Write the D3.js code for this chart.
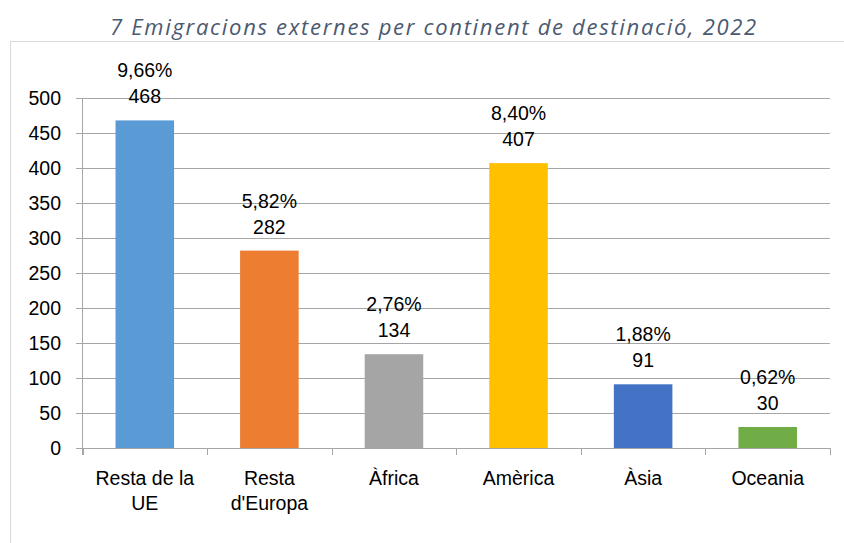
<!DOCTYPE html>
<html lang="ca">
<head>
  <meta charset="UTF-8">
  <title>Emigracions externes</title>
  <script src="https://d3js.org/d3.v7.min.js"></script>
  <style>
    body { margin: 0; background: #fff; }
  </style>
</head>
<body>
  <svg width="844" height="543"></svg>
<script>
  const categories = ["Resta de la UE", "Resta d'Europa", "Àfrica", "Amèrica", "Àsia", "Oceania"];
  const labelLines = [["Resta de la", "UE"], ["Resta", "d'Europa"], ["Àfrica"], ["Amèrica"], ["Àsia"], ["Oceania"]];
  const values = [468, 282, 134, 407, 91, 30];
  const percents = ["9,66%", "5,82%", "2,76%", "8,40%", "1,88%", "0,62%"];
  const colors = ["#5B9BD5", "#ED7D31", "#A5A5A5", "#FFC000", "#4472C4", "#70AD47"];
  const yTicks = [0, 50, 100, 150, 200, 250, 300, 350, 400, 450, 500];

  const svg = d3.select("svg");
  const font = "'Liberation Sans', sans-serif";
  const fs = 19.5;

  // titol
  svg.append("text")
    .attr("x", 434)
    .attr("y", 35)
    .attr("text-anchor", "middle")
    .attr("font-family", "'Open Sans', sans-serif")
    .attr("font-style", "italic")
    .attr("font-size", 22)
    .attr("letter-spacing", 1.7)
    .attr("fill", "#4b5a70")
    .text("7 Emigracions externes per continent de destinació, 2022");

  // marc del grafic
  svg.append("rect")
    .attr("x", 10.5).attr("y", 41.5)
    .attr("width", 840).attr("height", 520)
    .attr("fill", "none")
    .attr("stroke", "#d9d9d9");

  const x = d3.scaleBand()
    .domain(categories)
    .range([82.5, 830])
    .paddingInner(0.53)
    .paddingOuter(0.265);

  const y = d3.scaleLinear()
    .domain([0, 500])
    .range([448, 98]);

  // linies de graella
  svg.append("g")
    .selectAll("line")
    .data(yTicks)
    .join("line")
    .attr("x1", 76).attr("x2", 830)
    .attr("y1", d => Math.round(y(d)) + 0.5)
    .attr("y2", d => Math.round(y(d)) + 0.5)
    .attr("stroke", "#a6a6a6")
    .attr("stroke-width", 1);

  // eix Y
  svg.append("line")
    .attr("x1", 82.5).attr("x2", 82.5)
    .attr("y1", y(500)).attr("y2", 455)
    .attr("stroke", "#a6a6a6");

  svg.append("g")
    .selectAll("text")
    .data(yTicks)
    .join("text")
    .attr("x", 61)
    .attr("y", d => y(d))
    .attr("dy", "0.36em")
    .attr("text-anchor", "end")
    .attr("font-family", font)
    .attr("font-size", fs)
    .attr("fill", "#000")
    .text(d => d);

  // marques eix X
  const bounds = categories.map(c => x(c) - x.step() * x.paddingInner() / 2);
  bounds.push(830);
  svg.append("g")
    .selectAll("line")
    .data(bounds)
    .join("line")
    .attr("x1", d => Math.round(d) + 0.5).attr("x2", d => Math.round(d) + 0.5)
    .attr("y1", 448).attr("y2", 455)
    .attr("stroke", "#a6a6a6");

  // barres
  svg.append("g")
    .selectAll("rect")
    .data(values)
    .join("rect")
    .attr("x", (d, i) => x(categories[i]))
    .attr("y", d => y(d))
    .attr("width", x.bandwidth())
    .attr("height", d => y(0) - y(d))
    .attr("fill", (d, i) => colors[i]);

  // etiquetes de dades
  const lab = svg.append("g")
    .selectAll("g")
    .data(values)
    .join("g")
    .attr("transform", (d, i) => `translate(${x(categories[i]) + x.bandwidth() / 2},${y(d)})`)
    .attr("font-family", font)
    .attr("font-size", fs)
    .attr("text-anchor", "middle")
    .attr("fill", "#000");

  lab.append("text").attr("y", -43).text((d, i) => percents[i]);
  lab.append("text").attr("y", -17).text(d => d);

  // etiquetes de categoria
  svg.append("g")
    .selectAll("text")
    .data(categories)
    .join("text")
    .attr("x", d => x(d) + x.bandwidth() / 2)
    .attr("y", 485)
    .attr("text-anchor", "middle")
    .attr("font-family", font)
    .attr("font-size", fs)
    .attr("fill", "#000")
    .selectAll("tspan")
    .data((d, i) => labelLines[i])
    .join("tspan")
    .attr("x", function () { return this.parentNode.getAttribute("x"); })
    .attr("dy", (d, i) => i === 0 ? 0 : 25)
    .text(d => d);
</script>
</body>
</html>
